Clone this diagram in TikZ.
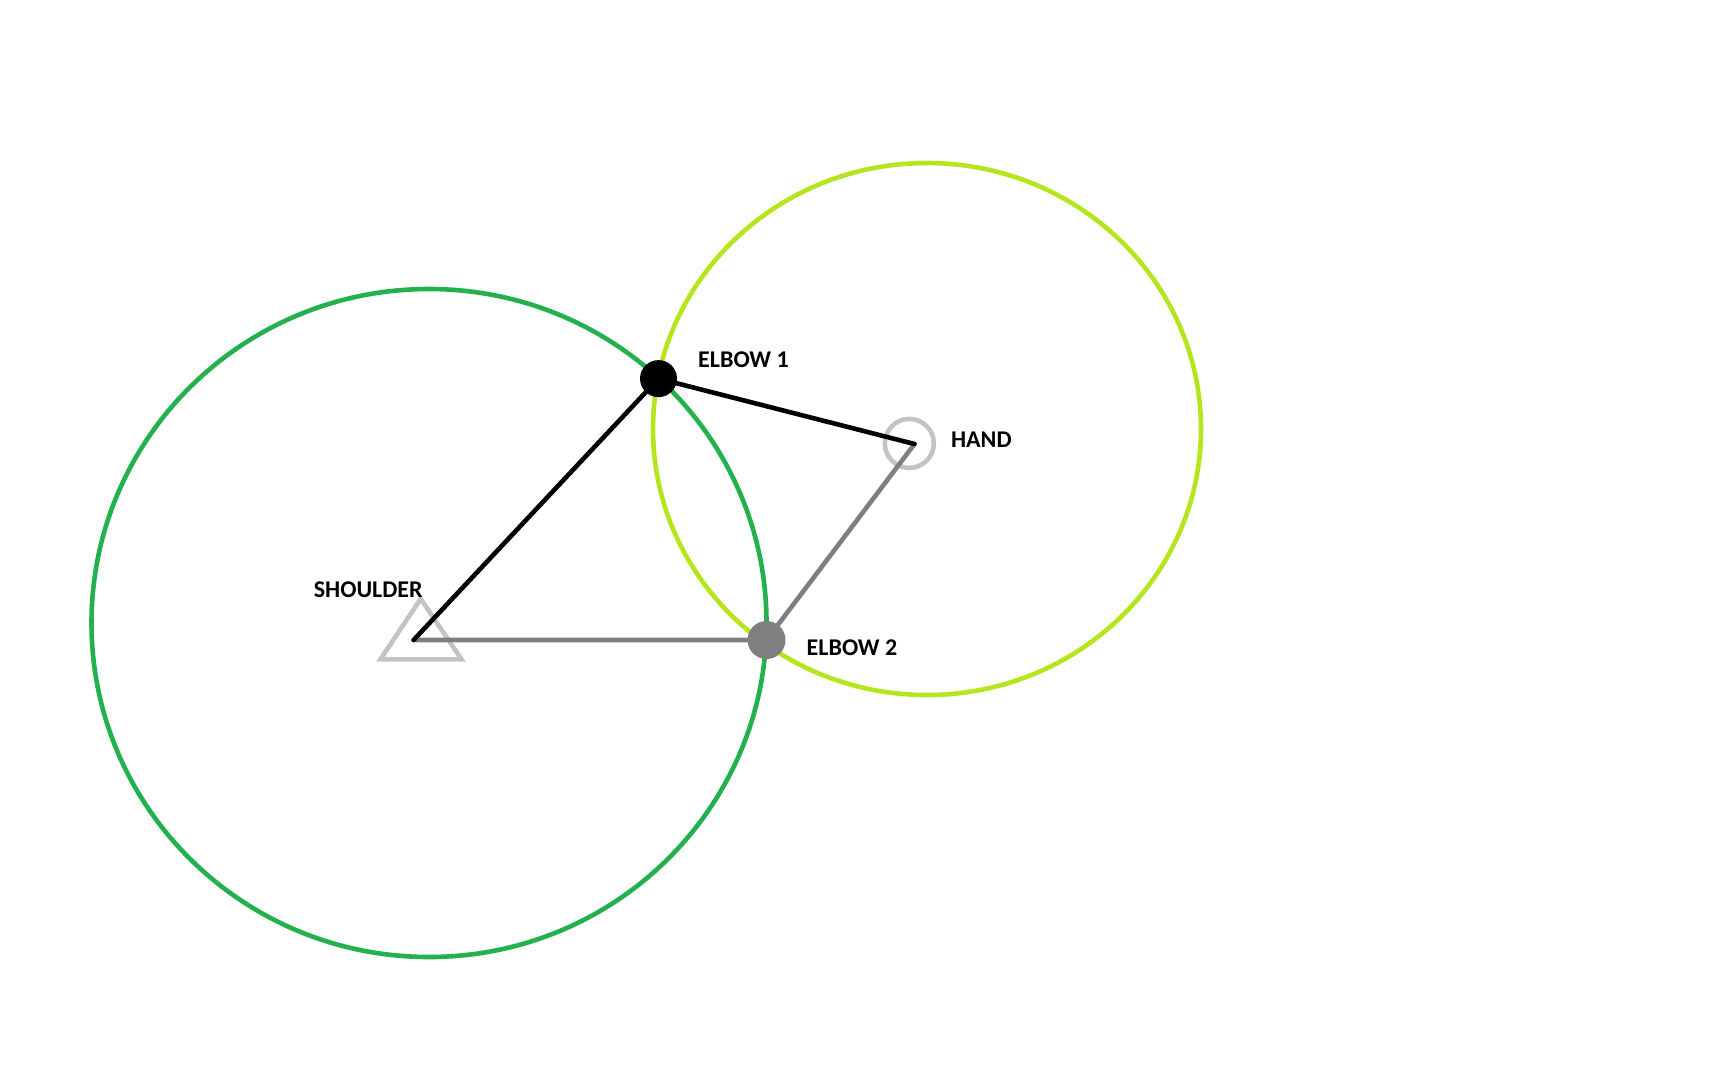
\documentclass[tikz,border=0pt]{standalone}
\usepackage{fontspec}
\setmainfont{Carlito}
\definecolor{dkgreen}{HTML}{22B14C}
\definecolor{lime}{HTML}{B5E61D}
\definecolor{midgray}{HTML}{7F7F7F}
\definecolor{ltgray}{HTML}{C3C3C3}
\begin{document}
\begin{tikzpicture}[x=1pt,y=-1pt,
  ring/.style={line width=4.6pt},
  arm/.style={line width=4.6pt,line cap=round},
  joint/.style={circle,inner sep=0pt,minimum size=37pt},
  lbl/.style={font=\fontsize{24}{28}\selectfont\bfseries,inner sep=0pt,anchor=base west}]
\useasboundingbox (0,0) rectangle (1728,1080);
% reach circles
\draw[ring,dkgreen] (429,623) ellipse [x radius=337.5,y radius=334];
\draw[ring,lime] (927,429) ellipse [x radius=274,y radius=266];
% points
\coordinate (sh) at (413.6,640);
\coordinate (hp) at (914.5,444);
% shoulder triangle
\draw[line width=4.6pt,ltgray,line join=miter] (380.4,659.4) -- (461.5,659.4) -- (420.7,598.8) -- cycle;
% hand ring
\node[circle,draw=ltgray,line width=4.6pt,inner sep=0pt,minimum size=49pt] (hand) at (909.3,443.4) {};
% arms
\node[joint] (e1) at (658.5,378.6) {};
\node[joint,minimum size=38pt] (e2) at (766.5,640) {};
\draw[arm,midgray] (sh) -- (e2.center) -- (hp);
\draw[arm,black] (sh) -- (e1.center) -- (hp);
\node[joint,fill=black] at (e1) {};
\node[joint,minimum size=38pt,fill=midgray] at (e2) {};
% labels
\node[lbl] (lsh) at (313.6,597.5) {SHOULDER};
\node[lbl] (le1) at (698,367) {ELBOW 1};
\node[lbl] (lh) at (950.8,447) {HAND};
\node[lbl] (le2) at (806.5,655) {ELBOW 2};
\end{tikzpicture}
\end{document}
